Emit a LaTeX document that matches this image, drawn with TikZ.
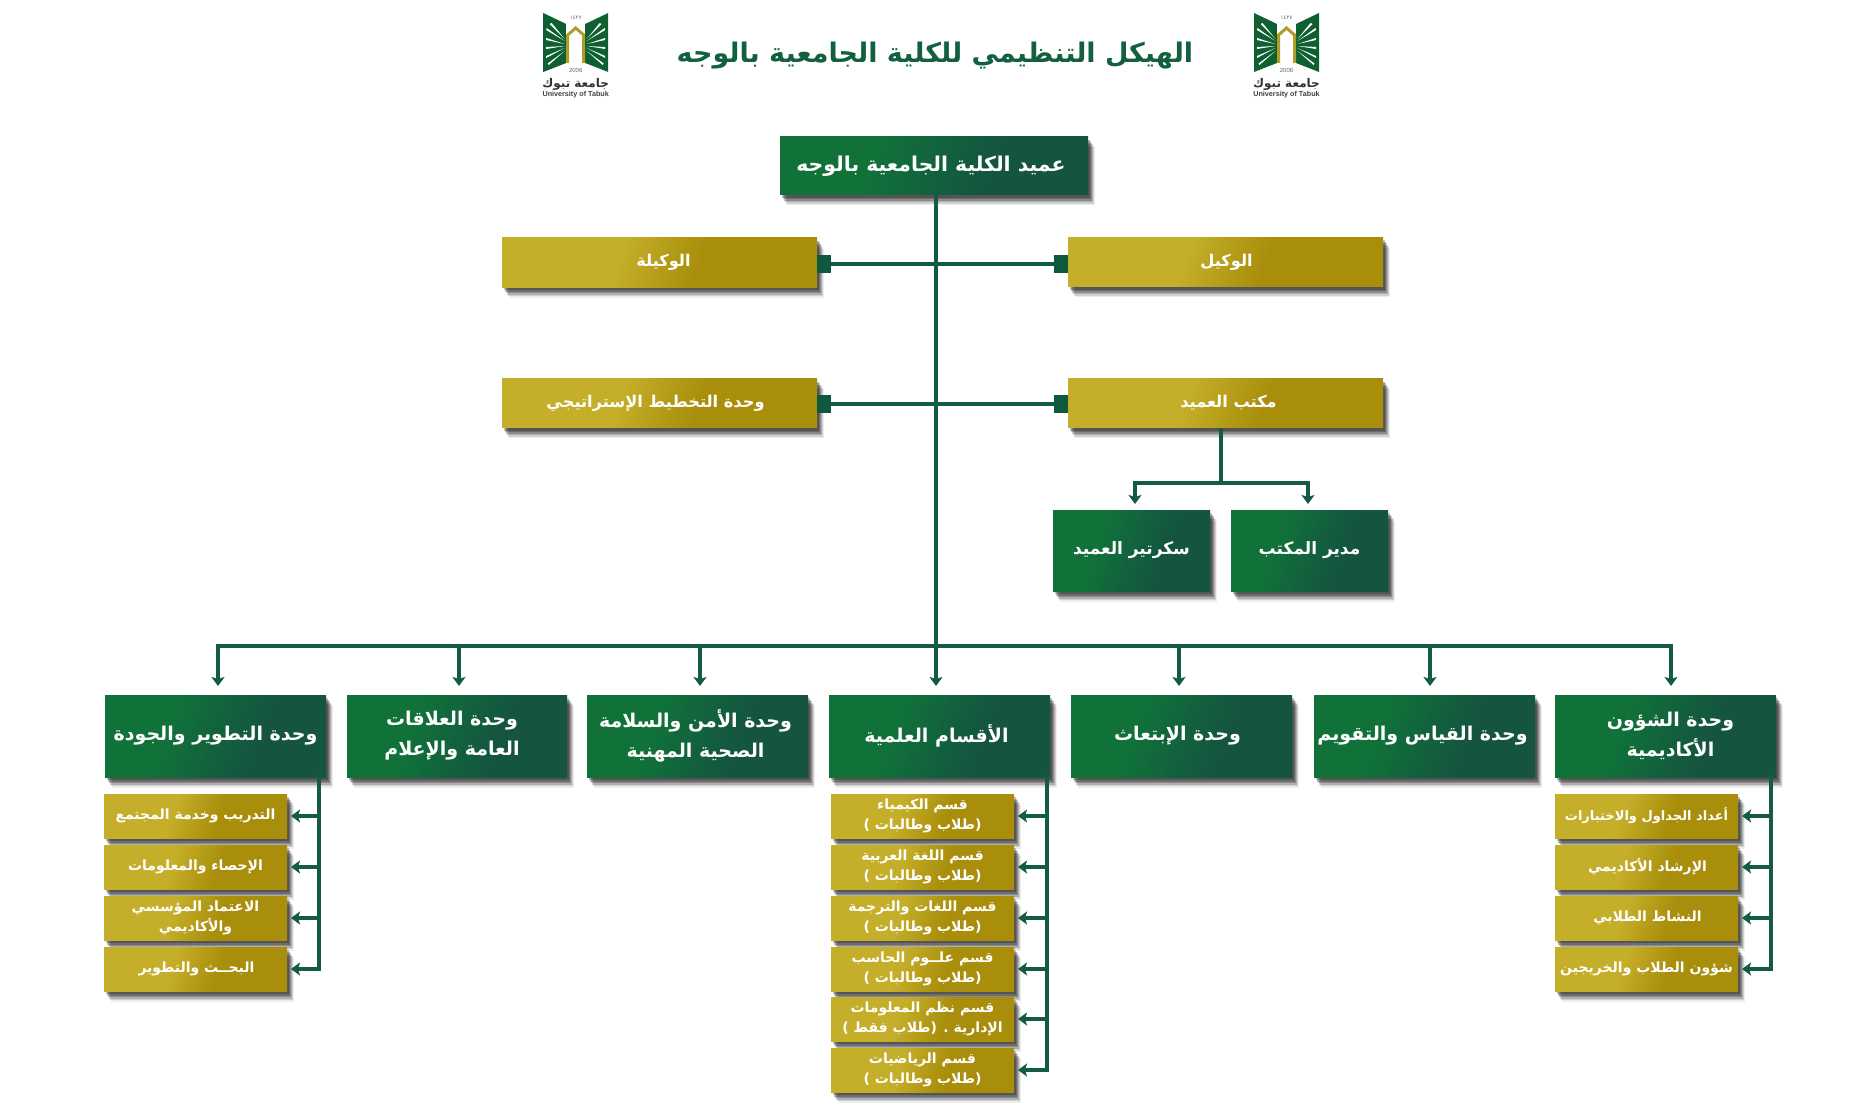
\documentclass[tikz,border=0pt]{standalone}
\usepackage{fontspec}
\usetikzlibrary{arrows.meta,shadows,calc}
\TeXXeTstate=1
\newfontfamily\arabicfont[Script=Arabic]{DejaVu Sans}
\setsansfont{Liberation Sans}
\newcommand\arb[2][0pt]{\hspace*{#1}\beginR #2\endR}
\newcommand\lowr[1]{\raisebox{-1.2pt}{#1}}
\definecolor{gA}{HTML}{107139}
\definecolor{gB}{HTML}{145440}
\definecolor{yA}{HTML}{C5AE29}
\definecolor{yB}{HTML}{A88E0A}
\definecolor{lineG}{HTML}{145B46}
\definecolor{sqG}{HTML}{0F5A3E}
\definecolor{titleG}{HTML}{126040}
\pgfdeclarehorizontalshading{greenSh}{100bp}{color(0bp)=(gA); color(38bp)=(gA); color(62bp)=(gB); color(100bp)=(gB)}
\pgfdeclarehorizontalshading{goldSh}{100bp}{color(0bp)=(yA); color(42bp)=(yA); color(58bp)=(yB); color(100bp)=(yB)}
\tikzset{
  softshadow/.style={
    general shadow={shadow xshift=1.5pt,shadow yshift=-3pt,fill=black,opacity=.24},
    general shadow={shadow xshift=2.5pt,shadow yshift=-4.5pt,fill=black,opacity=.22},
    general shadow={shadow xshift=3.5pt,shadow yshift=-6pt,fill=black,opacity=.2},
    general shadow={shadow xshift=4.5pt,shadow yshift=-7.5pt,fill=black,opacity=.16},
    general shadow={shadow xshift=5.5pt,shadow yshift=-9pt,fill=black,opacity=.12},
    general shadow={shadow xshift=6.5pt,shadow yshift=-10.5pt,fill=black,opacity=.07}},
  box/.style={rectangle,inner sep=0pt,outer sep=0pt,text=white,align=center,softshadow,
    font=\arabicfont\bfseries},
  greenbox/.style={box,shade,shading=greenSh,shading angle=-20},
  goldbox/.style={box,shade,shading=goldSh,shading angle=-20},
  unitbox/.style={greenbox,minimum width=221pt,minimum height=82pt,font=\arabicfont\bfseries\fontsize{19}{30}\selectfont},
  subbox/.style={goldbox,minimum width=183pt,minimum height=44pt,font=\arabicfont\bfseries\fontsize{14}{19.5}\selectfont},
  sidebox/.style={goldbox,minimum width=315pt,minimum height=49pt,font=\arabicfont\bfseries\fontsize{16.2}{18}\selectfont},
  conn/.style={draw=lineG,line width=4pt},
  tipped/.style={conn,-{Stealth[length=9pt,width=13pt,inset=2pt]}},
  sq/.style={rectangle,fill=sqG,minimum width=14pt,minimum height=18pt,inner sep=0pt,outer sep=0pt},
  logo/.pic={
    \fill[gA!85!black] (-32.5,0) -- (-9.5,11) -- (-9.5,50) -- (-32.5,59) -- cycle;
    \fill[gA!85!black] (32.5,0) -- (9.5,11) -- (9.5,50) -- (32.5,59) -- cycle;
    \foreach \s in {-1,1}{
      \fill[white] (\s*11,26) -- (\s*24,10) -- (\s*26,11) -- cycle;
      \fill[white] (\s*11,28) -- (\s*29,15) -- (\s*29.5,17) -- cycle;
      \fill[white] (\s*11,31) -- (\s*29.5,25) -- (\s*29.5,27) -- cycle;
      \fill[white] (\s*11,33) -- (\s*29.5,34) -- (\s*29.5,36) -- cycle;
      \fill[white] (\s*11,35) -- (\s*29.5,43) -- (\s*29.5,45) -- cycle;
      \fill[white] (\s*11,38) -- (\s*27,52) -- (\s*28,50.5) -- cycle;
    }
    \fill[white] (-9.5,12) rectangle (9.5,56);
    \draw[yA!90!black,line width=3pt,line join=miter] (-8,50) -- (-8,22) -- (0,15) -- (8,22) -- (8,50);
    \node[text=black!60,font=\fontsize{6}{6}\selectfont\sffamily] at (0,57) {2006};
    \node[text=black!60,font=\fontsize{5.5}{6}\selectfont\arabicfont] at (0,5) {١٤٢٧};
    \node[text=black!80,font=\fontsize{12}{12}\selectfont\arabicfont\bfseries] at (0,71) {\arb{جامعة تبوك}};
    \node[text=black!75,font=\fontsize{7.2}{8}\selectfont\sffamily\bfseries] at (0,82) {University of Tabuk};
  }
}
\begin{document}
\begin{tikzpicture}[x=1pt,y=-1pt]
\useasboundingbox (0,0) rectangle (1874,1118);
\coordinate (busC) at (936,646);
\coordinate (busL) at (218,646);
\coordinate (busB) at (459,646);
\coordinate (busD) at (700,646);
\coordinate (busE) at (1179,646);
\coordinate (busF) at (1430,646);
\coordinate (busR) at (1671,646);
\coordinate (trL) at (319,700);
\coordinate (trC) at (1047,700);
\coordinate (trR) at (1771,700);
\coordinate (ofX) at (1221,404);
\coordinate (ofY) at (1221,483);
\coordinate (arS) at (1135,483);
\coordinate (arM) at (1308,483);

\pic at (575.7,13) {logo};
\pic at (1286.5,13) {logo};
\node[text=titleG,font=\arabicfont\bfseries\fontsize{27}{30}\selectfont,inner sep=0pt] (title) at (935,56) {\arb{الهيكل التنظيمي للكلية الجامعية بالوجه}};

\node[greenbox,minimum width=308pt,minimum height=58pt,font=\arabicfont\bfseries\fontsize{20.4}{24}\selectfont] (dean) at (934,166) {\arb[-6pt]{عميد الكلية الجامعية بالوجه}};
\node[sidebox] (wakila) at (659.5,262.5) {\lowr{\arb[8pt]{الوكيلة}}};
\node[sidebox] (wakil) at (1225.5,262) {\lowr{\arb[2pt]{الوكيل}}};
\node[sidebox] (plan) at (659.5,403) {\lowr{\arb[-8pt]{وحدة التخطيط الإستراتيجي}}};
\node[sidebox] (office) at (1225.5,403) {\lowr{\arb[6pt]{مكتب العميد}}};
\node[greenbox,minimum width=157pt,minimum height=81pt,font=\arabicfont\bfseries\fontsize{17}{20}\selectfont] (sec) at (1131.5,550.5) {\arb{سكرتير العميد}};
\node[greenbox,minimum width=157pt,minimum height=81pt,font=\arabicfont\bfseries\fontsize{17}{20}\selectfont] (mgr) at (1309.5,550.5) {\arb{مدير المكتب}};
\node[sq,anchor=west] (sqA) at (817,264) {};
\node[sq,anchor=east] (sqB) at (1068,264) {};
\node[sq,anchor=west] (sqC) at (817,404) {};
\node[sq,anchor=east] (sqD) at (1068,404) {};

\node[unitbox] (u1) at (215.5,736) {\arb{وحدة التطوير والجودة}};
\node[unitbox,minimum width=220pt] (u2) at (457,736) {\arb[-10pt]{وحدة العلاقات}\\\arb[-10pt]{العامة والإعلام}};
\node[unitbox] (u3) at (697.5,736) {\arb[-4pt]{وحدة الأمن والسلامة}\\\arb[-4pt]{الصحية المهنية}};
\node[unitbox] (u4) at (939.5,736) {\arb[-6pt]{الأقسام العلمية}};
\node[unitbox] (u5) at (1181.5,736) {\arb[-8pt]{وحدة الإبتعاث}};
\node[unitbox] (u6) at (1424.5,736) {\arb[-4pt]{وحدة القياس والتقويم}};
\node[unitbox] (u7) at (1665.5,736) {\arb[10pt]{وحدة الشؤون}\\\arb[10pt]{الأكاديمية}};

\node[subbox] (l1) at (195.5,816) {\arb{التدريب وخدمة المجتمع}};
\node[subbox] (l2) at (195.5,867) {\arb{الإحصاء والمعلومات}};
\node[subbox] (l3) at (195.5,918) {\arb{الاعتماد المؤسسي}\\\arb{والأكاديمي}};
\node[subbox] (l4) at (195.5,969) {\arb[2pt]{البحــث والتطوير}};
\node[subbox] (c1) at (922.5,816) {\arb{قسم الكيمياء}\\\arb{(طلاب وطالبات )}};
\node[subbox] (c2) at (922.5,867) {\arb{قسم اللغة العربية}\\\arb{(طلاب وطالبات )}};
\node[subbox] (c3) at (922.5,918) {\arb{قسم اللغات والترجمة}\\\arb{(طلاب وطالبات )}};
\node[subbox] (c4) at (922.5,969) {\arb{قسم علــوم الحاسب}\\\arb{(طلاب وطالبات )}};
\node[subbox] (c5) at (922.5,1019) {\arb{قسم نظم المعلومات}\\\arb{الإدارية . (طلاب فقط )}};
\node[subbox] (c6) at (922.5,1070) {\arb{قسم الرياضيات}\\\arb{(طلاب وطالبات )}};
\node[subbox,font=\arabicfont\bfseries\fontsize{13}{19.5}\selectfont] (r1) at (1646.5,816) {\arb{أعداد الجداول والاختبارات}};
\node[subbox] (r2) at (1646.5,867) {\arb[2pt]{الإرشاد الأكاديمي}};
\node[subbox] (r3) at (1646.5,918) {\arb[2pt]{النشاط الطلابي}};
\node[subbox] (r4) at (1646.5,969) {\arb{شؤون الطلاب والخريجين}};

\draw[conn] (dean.south -| busC) -- (busC);
\draw[conn] (sqA) -- (sqB);
\draw[conn] (sqC) -- (sqD);
\draw[conn] ([xshift=-2pt]busL) -- ([xshift=2pt]busR);
\draw[conn] (office.south -| ofX) -- (ofY);
\draw[conn] ([xshift=-2pt]arS) -- ([xshift=2pt]arM);
\draw[tipped,shorten >=6pt] (arS) -- (sec.north -| arS);
\draw[tipped,shorten >=6pt] (arM) -- (mgr.north -| arM);
\foreach \b/\u in {busL/u1,busB/u2,busD/u3,busC/u4,busE/u5,busF/u6,busR/u7}
  \draw[tipped,shorten >=9pt] (\b) -- (\u.north -| \b);
\draw[conn,line cap=rect] (u1.south -| trL) -- (l4.east -| trL);
\draw[conn,line cap=rect] (u4.south -| trC) -- (c6.east -| trC);
\draw[conn,line cap=rect] (u7.south -| trR) -- (r4.east -| trR);
\foreach \n in {l1,l2,l3,l4}
  \draw[tipped,shorten >=4pt] (\n.east -| trL) -- (\n.east);
\foreach \n in {c1,c2,c3,c4,c5,c6}
  \draw[tipped,shorten >=4pt] (\n.east -| trC) -- (\n.east);
\foreach \n in {r1,r2,r3,r4}
  \draw[tipped,shorten >=4pt] (\n.east -| trR) -- (\n.east);
\end{tikzpicture}
\end{document}
